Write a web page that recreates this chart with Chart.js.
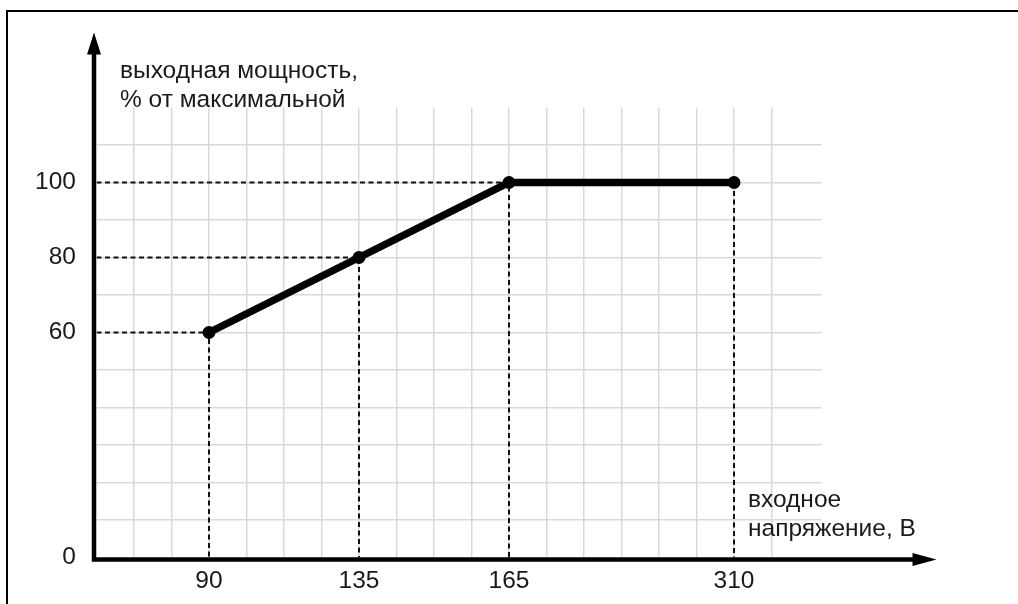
<!DOCTYPE html>
<html>
<head>
<meta charset="utf-8">
<script src="https://cdn.jsdelivr.net/npm/chart.js@4"></script>
<style>
  html, body { margin: 0; padding: 0; background: #fff; }
  #wrap { width: 1018px; height: 604px; position: relative; }
</style>
</head>
<body>
<div id="wrap"><canvas id="chart"></canvas></div>
<script>
// data
const voltageLabels = ['90', '135', '165', '310'];
const voltageCells = [3, 7, 11, 17];      // the x axis is schematic: grid cell of each voltage tick
const powerValues = [60, 80, 100, 100];
const powerTickLabels = [0, 60, 80, 100];

const yTitle = ['выходная мощность,', '% от максимальной'];
const xTitle = ['входное', 'напряжение, В'];

const ink = '#1a1a1a';
const fontFamily = '"Liberation Sans", Arial, sans-serif';
Chart.defaults.font.family = fontFamily;
Chart.defaults.font.size = 24.5;
Chart.defaults.color = ink;

const points = voltageCells.map((c, i) => ({ x: c, y: powerValues[i] }));

// dashed guides: down to the x axis from every point, across to the y axis once per level
const guides = [];
const seenLevels = [];
points.forEach(p => {
    const d = [];
    if (!seenLevels.includes(p.y)) { d.push({ x: 0, y: p.y }); seenLevels.push(p.y); }
    d.push({ x: p.x, y: p.y }, { x: p.x, y: 0 });
    guides.push({
        data: d, borderColor: '#111', borderWidth: 2, borderDash: [5, 3.5],
        pointRadius: 0, fill: false, tension: 0, order: 2
    });
});

const decorations = {
    id: 'decorations',
    beforeDraw(chart) {
        const ctx = chart.ctx;
        ctx.save();
        ctx.fillStyle = '#000';
        ctx.fillRect(6, 10, 1012, 2);
        ctx.fillRect(6, 10, 2, 594);
        ctx.restore();
    },
    afterDatasetsDraw(chart) {
        const { ctx, scales: { x, y } } = chart;
        const ox = x.getPixelForValue(0) - 2.5;
        const oy = y.getPixelForValue(0) + 2;
        const topTip = y.getPixelForValue(140);
        const rightTip = x.getPixelForValue(22.4);
        ctx.save();
        ctx.strokeStyle = '#000';
        ctx.fillStyle = '#000';
        ctx.lineWidth = 4.5;
        ctx.beginPath();
        ctx.moveTo(ox, oy + 2.25);
        ctx.lineTo(ox, topTip + 15);
        ctx.moveTo(ox - 2.25, oy);
        ctx.lineTo(rightTip - 15, oy);
        ctx.stroke();
        // arrow heads
        ctx.beginPath();
        ctx.moveTo(ox, topTip);
        ctx.lineTo(ox - 7, topTip + 22);
        ctx.lineTo(ox + 7, topTip + 22);
        ctx.closePath();
        ctx.fill();
        ctx.beginPath();
        ctx.moveTo(rightTip, oy);
        ctx.lineTo(rightTip - 24, oy - 6.5);
        ctx.lineTo(rightTip - 24, oy + 6.5);
        ctx.closePath();
        ctx.fill();
        // axis titles
        ctx.fillStyle = ink;
        ctx.font = '24.5px ' + fontFamily;
        ctx.textBaseline = 'alphabetic';
        ctx.textAlign = 'left';
        ctx.fillText(yTitle[0], 120, 78);
        ctx.fillText(yTitle[1], 120, 107);
        ctx.fillText(xTitle[0], 748, 507);
        ctx.fillText(xTitle[1], 748, 536);
        ctx.restore();
    }
};

new Chart(document.getElementById('chart'), {
    type: 'line',
    data: {
        datasets: [
            {
                data: points, borderColor: '#000', borderWidth: 7.5,
                pointRadius: 6.5, pointBackgroundColor: '#000', pointBorderWidth: 0,
                pointHoverRadius: 6.5, tension: 0, fill: false, order: 1
            },
            ...guides
        ]
    },
    options: {
        responsive: true,
        maintainAspectRatio: false,
        animation: false,
        events: [],
        layout: { padding: { top: 107.5, right: 196.5, left: 0, bottom: 0 } },
        plugins: { legend: { display: false }, tooltip: { enabled: false } },
        scales: {
            x: {
                type: 'linear',
                min: 0,
                max: 19 + 1 / 3,
                afterBuildTicks: s => { s.ticks = Array.from({ length: 19 }, (_, i) => ({ value: i })); },
                afterFit: s => { s.height = 46.5; },
                ticks: {
                    padding: 9,
                    maxRotation: 0,
                    autoSkip: false,
                    callback: v => {
                        const i = voltageCells.indexOf(v);
                        return i >= 0 ? voltageLabels[i] : '';
                    }
                },
                grid: {
                    drawTicks: false,
                    lineWidth: 1.5,
                    color: c => (c.tick && c.tick.value === 0 ? 'rgba(0,0,0,0)' : '#d9d9d9')
                },
                border: { display: false }
            },
            y: {
                min: 0,
                max: 120,
                afterBuildTicks: s => { s.ticks = Array.from({ length: 12 }, (_, i) => ({ value: i * 10 })); },
                afterFit: s => { s.width = 96.5; },
                ticks: {
                    padding: 20.5,
                    autoSkip: false,
                    callback: v => (powerTickLabels.includes(v) ? String(v) : '')
                },
                grid: {
                    drawTicks: false,
                    lineWidth: 1.5,
                    color: c => (c.tick && c.tick.value === 0 ? 'rgba(0,0,0,0)' : '#d9d9d9')
                },
                border: { display: false }
            }
        }
    },
    plugins: [decorations]
});
</script>
</body>
</html>
